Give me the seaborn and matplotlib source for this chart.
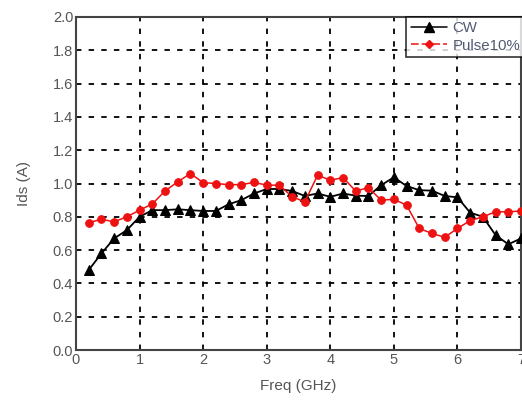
import numpy as np
import pandas as pd
import seaborn as sns
import matplotlib
matplotlib.use("Agg")
import matplotlib.pyplot as plt
from matplotlib.lines import Line2D

freq = [0.2, 0.4, 0.6, 0.8, 1.0, 1.2, 1.4, 1.6, 1.8, 2.0, 2.2, 2.4, 2.6, 2.8, 3.0,
        3.2, 3.4, 3.6, 3.8, 4.0, 4.2, 4.4, 4.6, 4.8, 5.0, 5.2, 5.4, 5.6, 5.8, 6.0,
        6.2, 6.4, 6.6, 6.8, 7.0]
cw = [0.48, 0.58, 0.67, 0.72, 0.80, 0.84, 0.84, 0.845, 0.84, 0.835, 0.835, 0.875,
      0.90, 0.94, 0.967, 0.967, 0.955, 0.925, 0.94, 0.92, 0.94, 0.927, 0.925, 0.99,
      1.037, 0.985, 0.96, 0.957, 0.925, 0.917, 0.825, 0.80, 0.69, 0.635, 0.67]
pulse = [0.765, 0.785, 0.77, 0.80, 0.84, 0.877, 0.955, 1.01, 1.06, 1.005, 1.0, 0.993,
         0.993, 1.007, 0.99, 0.99, 0.92, 0.89, 1.05, 1.02, 1.035, 0.955, 0.975, 0.90,
         0.905, 0.87, 0.73, 0.70, 0.677, 0.73, 0.777, 0.80, 0.83, 0.83, 0.835]
series_names = ["CW", "Pulse10%"]
xticks = [0, 1, 2, 3, 4, 5, 6, 7]
yticks = [0.0, 0.2, 0.4, 0.6, 0.8, 1.0, 1.2, 1.4, 1.6, 1.8, 2.0]

sns.set_style("white")
plt.rcParams['font.family'] = ['Liberation Sans', 'DejaVu Sans']

fig = plt.figure(figsize=(5.22, 4.01), dpi=100)
ax = fig.add_axes([76/522, (401-350)/401, 445/522, 333/401])

df_cw = pd.DataFrame({"freq": freq, "ids": cw})
df_p = pd.DataFrame({"freq": freq, "ids": pulse})

sns.lineplot(data=df_cw, x="freq", y="ids", ax=ax, color="black", marker="^",
             markersize=7, markeredgecolor="black", linewidth=1.3, zorder=3)
sns.lineplot(data=df_p, x="freq", y="ids", ax=ax, color="#ee1111", marker="o",
             markersize=5.5, markeredgecolor="#ee1111", linewidth=1.1, zorder=4)

ax.set_xlim(0, 7)
ax.set_ylim(0, 2.0)
ax.set_xticks(xticks)
ax.set_yticks(yticks)
ax.set_xticklabels([str(t) for t in xticks])
ax.set_yticklabels([f"{t:.1f}" for t in yticks])
ax.tick_params(axis='both', labelsize=10.5, colors="#555555", length=0, pad=2)
ax.grid(True, color="black", linestyle=(0, (3, 4)), linewidth=1.3)
for s in ax.spines.values():
    s.set_color("#444444")
    s.set_linewidth(1.5)

ax.set_xlabel("Freq (GHz)", fontsize=11, color="#555555", labelpad=9)
ax.set_ylabel("Ids (A)", fontsize=11, color="#555555", labelpad=16)

handles = [
    Line2D([], [], color="black", marker="^", markersize=7, linewidth=1.1),
    Line2D([], [], color="#ee1111", marker="D", markersize=4, linewidth=1.1, linestyle=(0, (5, 2))),
]
leg = ax.legend(handles, series_names, loc="upper left",
                bbox_to_anchor=((406-76)/445, 1.0), fontsize=10.8,
                frameon=True, fancybox=False, borderpad=0.3, handlelength=2.4,
                handletextpad=0.4, labelspacing=0.2, borderaxespad=0)
leg.get_frame().set_edgecolor("black")
leg.get_frame().set_linewidth(1.2)
for t in leg.get_texts():
    t.set_color("#505a70")

fig.savefig("out.png", dpi=100)
